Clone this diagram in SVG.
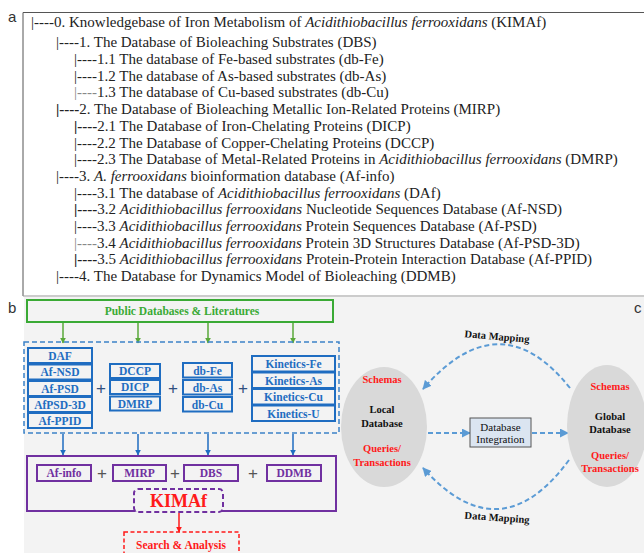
<svg xmlns="http://www.w3.org/2000/svg" width="644" height="553" viewBox="0 0 644 553">
<defs>
<marker id="mGreen" viewBox="0 0 10 10" refX="9" refY="5" markerWidth="6" markerHeight="6" orient="auto" markerUnits="userSpaceOnUse"><path d="M0,0 L10,5 L0,10 z" fill="#5aa83a"/></marker>
<marker id="mBlue" viewBox="0 0 10 10" refX="9" refY="5" markerWidth="6" markerHeight="6" orient="auto" markerUnits="userSpaceOnUse"><path d="M0,0 L10,5 L0,10 z" fill="#1f6dc1"/></marker>
<marker id="mRed" viewBox="0 0 10 10" refX="9" refY="5" markerWidth="6" markerHeight="6" orient="auto" markerUnits="userSpaceOnUse"><path d="M0,0 L10,5 L0,10 z" fill="#ff1a1a"/></marker>
<marker id="mLight" viewBox="0 0 10 10" refX="9" refY="5" markerWidth="9" markerHeight="9" orient="auto" markerUnits="userSpaceOnUse"><path d="M0,0 L10,5 L0,10 z" fill="#5b9bd5"/></marker>
<marker id="mBlack" viewBox="0 0 10 10" refX="9" refY="5" markerWidth="5" markerHeight="5" orient="auto" markerUnits="userSpaceOnUse"><path d="M0,0 L10,5 L0,10 z" fill="#111"/></marker>
</defs>
<style>
.tree{font-family:"Liberation Serif","Times New Roman",serif;font-size:15px;fill:#222}
.lbl{font-family:"Liberation Sans",Arial,sans-serif;font-size:15px;fill:#333}
.b{font-family:"Liberation Serif","Times New Roman",serif;font-weight:bold;text-anchor:middle}
.blue{fill:#1f6dc1;font-size:11.5px}
.bbox{fill:none;stroke:#1f6dc1;stroke-width:2}
.pbox{fill:none;stroke:#7030a0;stroke-width:2}
.purple{fill:#7030a0;font-size:11.5px}
.plus{font-family:"Liberation Sans",Arial,sans-serif;font-size:17px;text-anchor:middle}
.red{fill:#ff1a1a}
.blk{fill:#111}
.rt{font-size:10.5px}
.lt{stroke:#5b9bd5;stroke-width:2;fill:none;stroke-dasharray:5,3}
</style>

<!-- panel a -->
<g id="panel-a">
<text class="lbl" x="8" y="22">a</text>
<path d="M23,296 L23,12.5 L650,12.5" fill="none" stroke="#555" stroke-width="1"/>
<line x1="23" y1="296" x2="650" y2="296" stroke="#999" stroke-width="1"/>
<text class="tree" x="31" y="27">|----0. Knowledgebase of Iron Metabolism of <tspan font-style="italic">Acidithiobacillus ferrooxidans</tspan> (KIMAf)</text>
<text class="tree" x="56" y="47">|----1. The Database of Bioleaching Substrates (DBS)</text>
<text class="tree" x="74" y="64">|----1.1 The database of Fe-based substrates (db-Fe)</text>
<text class="tree" x="74" y="81">|----1.2 The database of As-based substrates (db-As)</text>
<text class="tree" x="74" y="97"><tspan fill="#888">|----</tspan>1.3 The database of Cu-based substrates (db-Cu)</text>
<text class="tree" x="56" y="114"><tspan font-weight="bold">|----</tspan>2. The Database of Bioleaching Metallic Ion-Related Proteins (MIRP)</text>
<text class="tree" x="74" y="131"><tspan font-weight="bold">|----</tspan>2.1 The Database of Iron-Chelating Proteins (DICP)</text>
<text class="tree" x="74" y="148">|----2.2 The Database of Copper-Chelating Proteins (DCCP)</text>
<text class="tree" x="74" y="164">|----2.3 The Database of Metal-Related Proteins in <tspan font-style="italic">Acidithiobacillus ferrooxidans</tspan> (DMRP)</text>
<text class="tree" x="56" y="181">|----3. <tspan font-style="italic">A. ferrooxidans</tspan> bioinformation database (Af-info)</text>
<text class="tree" x="74" y="198">|----3.1 The database of <tspan font-style="italic">Acidithiobacillus ferrooxidans</tspan> (DAf)</text>
<text class="tree" x="74" y="214"><tspan font-weight="bold">|----</tspan>3.2 <tspan font-style="italic">Acidithiobacillus ferrooxidans</tspan> Nucleotide Sequences Database (Af-NSD)</text>
<text class="tree" x="74" y="231">|----3.3 <tspan font-style="italic">Acidithiobacillus ferrooxidans</tspan> Protein Sequences Database (Af-PSD)</text>
<text class="tree" x="74" y="248"><tspan fill="#888">|----</tspan>3.4 <tspan font-style="italic">Acidithiobacillus ferrooxidans</tspan> Protein 3D Structures Database (Af-PSD-3D)</text>
<text class="tree" x="74" y="264"><tspan font-weight="bold">|----</tspan>3.5 <tspan font-style="italic">Acidithiobacillus ferrooxidans</tspan> Protein-Protein Interaction Database (Af-PPID)</text>
<text class="tree" x="56" y="281">|----4. The Database for Dynamics Model of Bioleaching (DDMB)</text>
</g>

<!-- panel b background -->
<rect x="24" y="297" width="620" height="256" fill="#f3f3f3"/>
<text class="lbl" x="8" y="313">b</text>
<text class="lbl" x="634" y="313">c</text>

<g id="connectors">
<line x1="63" y1="322" x2="63" y2="343" stroke="#5aa83a" stroke-width="1.5" marker-end="url(#mGreen)"/>
<line x1="138" y1="322" x2="138" y2="343" stroke="#5aa83a" stroke-width="1.5" marker-end="url(#mGreen)"/>
<line x1="208" y1="322" x2="208" y2="343" stroke="#5aa83a" stroke-width="1.5" marker-end="url(#mGreen)"/>
<line x1="293" y1="322" x2="293" y2="343" stroke="#5aa83a" stroke-width="1.5" marker-end="url(#mGreen)"/>
<line x1="63" y1="434" x2="63" y2="455" stroke="#1f6dc1" stroke-width="1.5" marker-end="url(#mBlue)"/>
<line x1="138" y1="434" x2="138" y2="455" stroke="#1f6dc1" stroke-width="1.5" marker-end="url(#mBlue)"/>
<line x1="208" y1="434" x2="208" y2="455" stroke="#1f6dc1" stroke-width="1.5" marker-end="url(#mBlue)"/>
<line x1="293" y1="434" x2="293" y2="455" stroke="#1f6dc1" stroke-width="1.5" marker-end="url(#mBlue)"/>
<line x1="179" y1="513" x2="179" y2="532" stroke="#ff1a1a" stroke-width="1.5" marker-end="url(#mRed)"/>
<line class="lt" x1="428" y1="433" x2="470" y2="433" marker-end="url(#mLight)"/>
<line class="lt" x1="532" y1="433" x2="568" y2="433" marker-end="url(#mLight)"/>
<path class="lt" d="M570,388 Q500,300 423,389" marker-end="url(#mLight)"/>
<path class="lt" d="M569,460 Q500,554 423,468" marker-end="url(#mLight)"/>
<line x1="382" y1="401" x2="382" y2="387" stroke="#111" stroke-width="1.2" marker-end="url(#mBlack)"/>
<line x1="382" y1="431" x2="382" y2="444" stroke="#111" stroke-width="1.2" marker-end="url(#mBlack)"/>
<line x1="610" y1="406" x2="610" y2="392" stroke="#111" stroke-width="1.2" marker-end="url(#mBlack)"/>
<line x1="610" y1="437" x2="610" y2="449" stroke="#111" stroke-width="1.2" marker-end="url(#mBlack)"/>
</g>

<g id="public-databases">
<rect x="27" y="300" width="306" height="22" fill="none" stroke="#3aaa35" stroke-width="2"/>
<text class="b" x="182" y="315" fill="#3aaa35" font-size="11.5">Public Databases &amp; Literatures</text>
</g>

<g id="source-databases">
<rect x="24" y="342" width="315" height="91" fill="none" stroke="#3c82c8" stroke-width="1.5" stroke-dasharray="5,3"/>
</g>

<g id="af-stack">
<rect class="bbox" x="28" y="348" width="64" height="15"/><text class="b blue" x="60" y="359.5">DAF</text>
<rect class="bbox" x="28" y="364.5" width="64" height="15"/><text class="b blue" x="60" y="376">Af-NSD</text>
<rect class="bbox" x="28" y="381" width="64" height="15"/><text class="b blue" x="60" y="392.5">Af-PSD</text>
<rect class="bbox" x="28" y="397" width="64" height="15"/><text class="b blue" x="60" y="408.5">AfPSD-3D</text>
<rect class="bbox" x="28" y="413" width="64" height="15"/><text class="b blue" x="60" y="424.5">Af-PPID</text>
</g>
<text class="plus" x="101" y="394" fill="#2f4f7f">+</text>
<g id="mirp-stack">
<rect class="bbox" x="110" y="364" width="50" height="14"/><text class="b blue" x="135" y="375">DCCP</text>
<rect class="bbox" x="110" y="380" width="50" height="14"/><text class="b blue" x="135" y="391">DICP</text>
<rect class="bbox" x="110" y="396.5" width="50" height="14"/><text class="b blue" x="135" y="407.5">DMRP</text>
</g>
<text class="plus" x="173" y="394" fill="#2f4f7f">+</text>
<g id="dbs-stack">
<rect class="bbox" x="183" y="363" width="49" height="14.5"/><text class="b blue" x="207.5" y="374.5">db-Fe</text>
<rect class="bbox" x="183" y="380" width="49" height="14.5"/><text class="b blue" x="207.5" y="391.5">db-As</text>
<rect class="bbox" x="183" y="397" width="49" height="14.5"/><text class="b blue" x="207.5" y="408.5">db-Cu</text>
</g>
<text class="plus" x="243" y="394" fill="#2f4f7f">+</text>
<g id="kinetics-stack">
<rect class="bbox" x="252" y="356" width="83" height="15.5"/><text class="b blue" x="293.5" y="368">Kinetics-Fe</text>
<rect class="bbox" x="252" y="372.5" width="83" height="15.5"/><text class="b blue" x="293.5" y="384.5">Kinetics-As</text>
<rect class="bbox" x="252" y="389" width="83" height="15.5"/><text class="b blue" x="293.5" y="401">Kinetics-Cu</text>
<rect class="bbox" x="252" y="405.5" width="83" height="15.5"/><text class="b blue" x="293.5" y="417.5">Kinetics-U</text>
</g>

<g id="kimaf-box">
<rect class="pbox" x="27" y="456" width="309" height="55"/>
</g>
<g id="af-info"><rect class="pbox" x="37" y="465" width="54" height="16"/><text class="b purple" x="64" y="477">Af-info</text></g>
<text class="plus" x="102" y="479" fill="#555">+</text>
<g id="mirp"><rect class="pbox" x="113" y="465" width="53" height="16"/><text class="b purple" x="139.5" y="477">MIRP</text></g>
<text class="plus" x="175" y="479" fill="#555">+</text>
<g id="dbs"><rect class="pbox" x="184" y="465" width="54" height="16"/><text class="b purple" x="211" y="477">DBS</text></g>
<text class="plus" x="253" y="479" fill="#555">+</text>
<g id="ddmb"><rect class="pbox" x="267" y="465" width="54" height="16"/><text class="b purple" x="294" y="477">DDMB</text></g>
<g id="kimaf">
<rect x="134" y="489" width="89" height="23" rx="4" fill="#f3f3f3" stroke="#7030a0" stroke-width="2" stroke-dasharray="5,3"/>
<text class="b red" x="178.5" y="507" font-size="18">KIMAf</text>
</g>
<g id="search-analysis">
<rect x="124" y="532" width="115" height="30" fill="none" stroke="#ff1a1a" stroke-width="1.5" stroke-dasharray="4,2.5"/>
<text class="b red" x="181" y="549" font-size="11.5">Search &amp; Analysis</text>
</g>

<g id="local-database">
<ellipse cx="384" cy="427" rx="43" ry="60" fill="#d9d9d9"/>
<text class="b red rt" x="382" y="383">Schemas</text>
<text class="b blk rt" x="382" y="413">Local</text>
<text class="b blk rt" x="382" y="427">Database</text>
<text class="b red rt" x="382" y="452">Queries/</text>
<text class="b red rt" x="382" y="466">Transactions</text>
</g>
<g id="global-database">
<ellipse cx="607" cy="426" rx="40" ry="61" fill="#d9d9d9"/>
<text class="b red rt" x="610" y="390">Schemas</text>
<text class="b blk rt" x="610" y="420">Global</text>
<text class="b blk rt" x="610" y="433">Database</text>
<text class="b red rt" x="610" y="459">Queries/</text>
<text class="b red rt" x="610" y="472">Transactions</text>
</g>
<g id="database-integration">
<rect x="470" y="418" width="61" height="29" fill="#dbe5f1" stroke="#555" stroke-width="1"/>
<text x="500.5" y="431" font-family="Liberation Serif, serif" font-size="11" text-anchor="middle" fill="#111">Database</text>
<text x="500.5" y="443" font-family="Liberation Serif, serif" font-size="11" text-anchor="middle" fill="#111">Integration</text>
</g>
<g id="mapping-labels">
<text class="b blk" x="497" y="340" font-size="10.5" transform="rotate(5 497 337)">Data Mapping</text>
<text class="b blk" x="497" y="521" font-size="10.5" transform="rotate(4 497 518)">Data Mapping</text>
</g>
</svg>
